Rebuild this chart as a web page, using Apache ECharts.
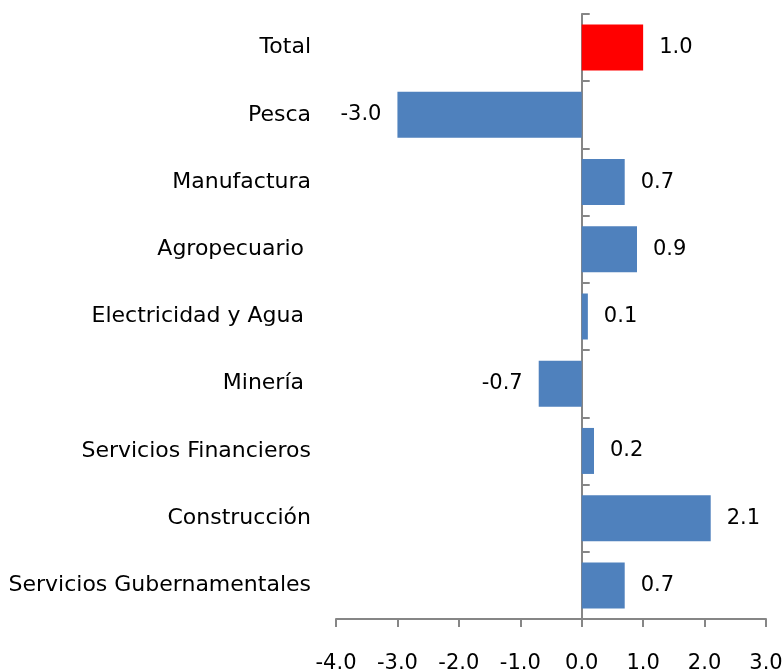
<!DOCTYPE html>
<html>
<head>
<meta charset="utf-8">
<script src="https://cdn.jsdelivr.net/npm/echarts@6/dist/echarts.min.js"></script>
<style>
  html, body { margin: 0; padding: 0; background: #fff; }
  #chart { width: 784px; height: 671px; }
</style>
</head>
<body>
<div id="chart"></div>
<script>
// sectores, de arriba hacia abajo
const categories = ['Total', 'Pesca', 'Manufactura', 'Agropecuario ', 'Electricidad y Agua ', 'Minería ',
  'Servicios Financieros', 'Construcción', 'Servicios Gubernamentales'];
const values = [1.0, -3.0, 0.7, 0.9, 0.1, -0.7, 0.2, 2.1, 0.7];
const xTicks = [-4, 3, 1]; // min, max, intervalo

const font = '"DejaVu Sans", sans-serif';
const axisGray = '#868686';

let chart = echarts.init(document.getElementById('chart'));
let option = {
  backgroundColor: '#fff',
  animation: false,
  grid: { left: 336, right: 18, top: 14, bottom: 52, containLabel: false, outerBoundsMode: 'none' },
  xAxis: {
    type: 'value',
    min: xTicks[0],
    max: xTicks[1],
    interval: xTicks[2],
    axisLine: { show: true, onZero: false, lineStyle: { color: axisGray, width: 2 } },
    axisTick: { show: true, length: 8, lineStyle: { color: axisGray, width: 2 } },
    splitLine: { show: false },
    axisLabel: {
      margin: 34, fontSize: 21, color: '#000', fontFamily: font,
      formatter: v => v.toFixed(1)
    }
  },
  yAxis: [{
    // solo etiquetas, al borde izquierdo
    type: 'category',
    data: categories,
    inverse: true,
    axisLine: { show: false, onZero: false },
    axisTick: { show: false },
    axisLabel: { margin: 25, fontSize: 22, color: '#000', fontFamily: font }
  }, {
    // eje en cero con marcas
    type: 'category',
    data: categories,
    inverse: true,
    position: 'left',
    axisLine: { show: true, onZero: true, lineStyle: { color: axisGray, width: 2 } },
    axisTick: { show: true, inside: true, length: 8, lineStyle: { color: axisGray, width: 2 } },
    axisLabel: { show: false }
  }],
  series: [{
    type: 'bar',
    yAxisIndex: 0,
    barWidth: 46,
    data: values.map((v, i) => ({
      value: v,
      itemStyle: { color: i === 0 ? '#FF0000' : '#4F81BD' },
      label: { position: v < 0 ? 'left' : 'right' }
    })),
    label: {
      show: true,
      distance: 16,
      fontSize: 21,
      color: '#000',
      fontFamily: font,
      formatter: p => p.value.toFixed(1)
    }
  }]
};
chart.setOption(option);
</script>
</body>
</html>
